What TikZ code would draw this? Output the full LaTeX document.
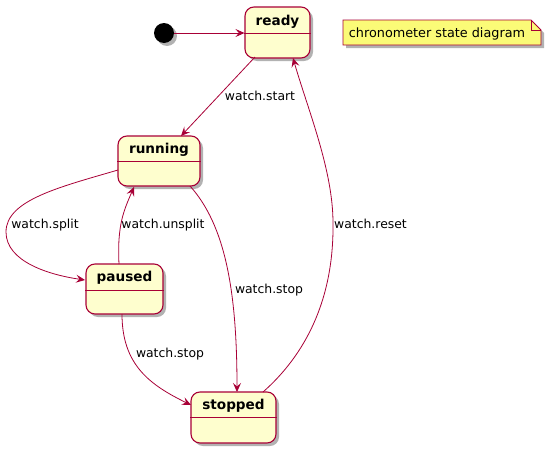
\documentclass[tikz,border=0pt]{standalone}
\usepackage{fontspec}
\setmainfont{DejaVu Sans}
\usetikzlibrary{arrows.meta,shadows,calc}
\definecolor{pborder}{HTML}{A80036}
\definecolor{pfill}{HTML}{FEFECE}
\definecolor{nfill}{HTML}{FBFB77}
\tikzset{
  pshadow/.style={drop shadow={shadow xshift=3pt,shadow yshift=-3pt,fill=black,opacity=0.3}},
  statebox/.style={draw=pborder,fill=pfill,line width=1.1pt,rounded corners=9pt,pshadow,inner sep=0pt},
  statetitle/.style={font=\fontsize{13.6}{15}\selectfont\bfseries,inner sep=0pt,anchor=base},
  divider/.style={draw=pborder,line width=1.1pt},
  trans/.style={draw=pborder,line width=0.8pt,-{Stealth[length=9pt,width=8pt,inset=3.5pt]}},
  lbl/.style={font=\fontsize{12.4}{14}\selectfont,inner sep=0pt,anchor=base},
  notetext/.style={font=\fontsize{12.8}{14}\selectfont,inner sep=0pt,anchor=base},
}
\begin{document}
\begin{tikzpicture}[x=1pt,y=-1pt]
\useasboundingbox (0,0) rectangle (552,453);
% start
\node[circle,fill=black,minimum size=20pt,inner sep=0pt,pshadow] (start) at (164,33) {};
% states
\node[statebox,minimum width=65pt,minimum height=51pt] (ready) at (277.5,32.5) {};
\node[statebox,minimum width=82pt,minimum height=50pt] (running) at (159,161) {};
\node[statebox,minimum width=77pt,minimum height=50pt] (paused) at (124.5,289) {};
\node[statebox,minimum width=85pt,minimum height=51pt] (stopped) at (233.5,417.5) {};
% titles
\node[statetitle] (readyt) at ($(ready.north)+(0,19.5)$) {ready};
\node[statetitle] (runningt) at ($(running.north)+(0,18.5)$) {running};
\node[statetitle] (pausedt) at ($(paused.north)+(0,18.5)$) {paused};
\node[statetitle] (stoppedt) at ($(stopped.north)+(0,18.5)$) {stopped};
% dividers
\draw[divider] ($(ready.north west)+(0,27)$) -- ($(ready.north east)+(0,27)$);
\draw[divider] ($(running.north west)+(0,26)$) -- ($(running.north east)+(0,26)$);
\draw[divider] ($(paused.north west)+(0,27)$) -- ($(paused.north east)+(0,27)$);
\draw[divider] ($(stopped.north west)+(0,26)$) -- ($(stopped.north east)+(0,26)$);
% note
\coordinate (n1) at (343,20);
\coordinate (n2) at (531,20);
\coordinate (n3) at (541,30);
\coordinate (n4) at (541,45);
\coordinate (n5) at (343,45);
\coordinate (nf) at (531,30);
\path[draw=pborder,fill=nfill,line width=0.8pt,pshadow] (n1) -- (n2) -- (n3) -- (n4) -- (n5) -- cycle;
\draw[pborder,line width=0.8pt] (n2) -- (nf) -- (n3);
\node[notetext] (note) at (437,37.3) {chronometer state diagram};
% transitions
\draw[trans] (start) -- (start -| ready.west);
\coordinate (r1) at (255,57);
\coordinate (ru1) at (181,136);
\draw[trans] (r1) -- (ru1);
\node[lbl] (l1) at (260,100.5) {watch.start};
\coordinate (ru2) at (118,170);
\coordinate (p1) at (85,280);
\draw[trans] (ru2) .. controls (60,187) and (6,200) .. (6,232) .. controls (6,262) and (50,275) .. (p1);
\node[lbl] (l2) at (45,228.5) {watch.split};
\coordinate (p2) at (119,264);
\coordinate (ru3) at (134,187);
\draw[trans] (p2) .. controls (117,225) and (124,210) .. (ru3);
\node[lbl] (l3) at (163,228.5) {watch.unsplit};
\coordinate (ru4) at (190,186);
\coordinate (s1) at (237,392);
\draw[trans] (ru4) .. controls (225,225) and (237,290) .. (s1);
\node[lbl] (l4) at (269,293) {watch.stop};
\coordinate (p3) at (122,314);
\coordinate (s2) at (191,405);
\draw[trans] (p3) .. controls (122,365) and (150,385) .. (s2);
\node[lbl] (l5) at (170,357.5) {watch.stop};
\coordinate (s3) at (263,392);
\coordinate (r2) at (293,58);
\draw[trans] (s3) .. controls (305,355) and (334,300) .. (333,223) .. controls (333,170) and (308,110) .. (r2);
\node[lbl] (l6) at (370.5,228.5) {watch.reset};
\end{tikzpicture}
\end{document}
